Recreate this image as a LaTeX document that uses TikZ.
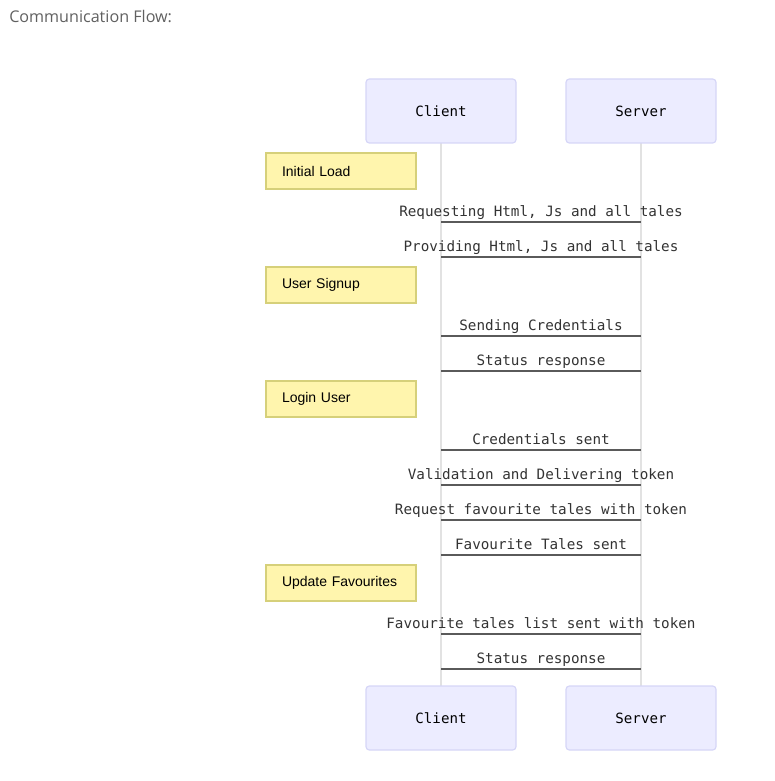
\documentclass[tikz,border=0pt]{standalone}
\usepackage{fontspec}
\setmainfont{Liberation Sans}
\setmonofont{DejaVu Sans Mono}
\newfontfamily\titlefont{Open Sans}
\definecolor{actorfill}{HTML}{ECECFF}
\definecolor{actorline}{HTML}{D6D6F7}
\definecolor{notefill}{HTML}{FFF5AD}
\definecolor{noteline}{HTML}{D6D07A}
\definecolor{lifeline}{HTML}{E2E2E2}
\definecolor{msgline}{HTML}{5A5A5A}
\definecolor{msgtext}{HTML}{333333}
\definecolor{titlecol}{HTML}{606060}
\tikzset{
  actorbox/.style={draw=actorline, fill=actorfill, line width=0.9pt, rounded corners=2.5pt,
    minimum width=112.5pt, minimum height=48pt, inner sep=0pt,
    font=\ttfamily\fontsize{10.6pt}{12pt}\selectfont, text=black},
  notebox/.style={draw=noteline, fill=notefill, line width=1pt,
    minimum width=112.5pt, minimum height=27pt, inner xsep=12pt, inner ysep=0pt,
    text width=88.5pt, align=left, font=\fontsize{10.5pt}{12pt}\selectfont, text=black},
  lifelinestyle/.style={draw=lifeline, line width=1.3pt},
  msg/.style={draw=msgline, line width=1.6pt},
  msglabel/.style={font=\ttfamily\fontsize{10.7pt}{12pt}\selectfont, text=msgtext, inner sep=0pt, anchor=base}
}
\begin{document}
\begin{tikzpicture}[x=0.75pt,y=-0.75pt]
\useasboundingbox (0,0) rectangle (774,781);
\node[anchor=west, font=\titlefont\fontsize{12.1pt}{14pt}\selectfont, text=titlecol, inner sep=0pt] (title) at (9,16) {Communication Flow:};
% lifelines
\coordinate (ctop) at (441,143);
\coordinate (cbot) at (441,686);
\coordinate (stop) at (641,143);
\coordinate (sbot) at (641,686);
\draw[lifelinestyle] (ctop) -- (cbot);
\draw[lifelinestyle] (stop) -- (sbot);
% actors
\node[actorbox] (client1) at (441,111) {Client};
\node[actorbox] (server1) at (641,111) {Server};
\node[actorbox] (client2) at (441,718) {Client};
\node[actorbox] (server2) at (641,718) {Server};
% notes
\node[notebox] (n1) at (341,171) {Initial Load};
\node[notebox] (n2) at (341,285) {User Signup};
\node[notebox] (n3) at (341,399) {Login User};
\node[notebox] (n4) at (341,583) {Update Favourites};
% messages
\foreach \i/\y/\txt in {1/222/{Requesting Html, Js and all tales},
                        2/257/{Providing Html, Js and all tales},
                        3/336/{Sending Credentials},
                        4/371/{Status response},
                        5/450/{Credentials sent},
                        6/485/{Validation and Delivering token},
                        7/520/{Request favourite tales with token},
                        8/555/{Favourite Tales sent},
                        9/634/{Favourite tales list sent with token},
                        10/669/{Status response}} {
  \coordinate (c\i) at (441,\y);
  \coordinate (s\i) at (641,\y);
  \draw[msg] (c\i) -- (s\i);
  \node[msglabel] (l\i) at (541,\y-5.5) {\txt};
}
\end{tikzpicture}
\end{document}
